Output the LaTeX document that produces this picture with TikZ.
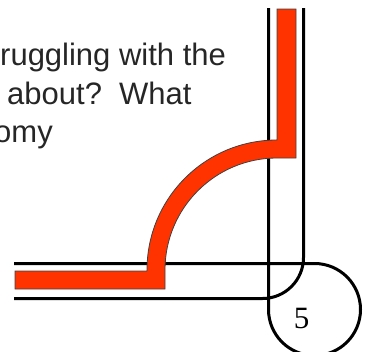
\documentclass[tikz,border=0pt]{standalone}
\usepackage{fontspec}
\setmainfont{Liberation Sans}
\newfontfamily\numfont{Liberation Serif}
\definecolor{tubered}{RGB}{255,51,0}
\tikzset{
  wall/.style={line width=3pt, line cap=butt},
  tube/.style={fill=tubered, draw=black!75, line width=0.8pt, line join=miter},
  slidetext/.style={inner sep=0pt, anchor=base west, text=black!85, font=\fontsize{31}{38}\selectfont},
  pagenum/.style={inner sep=0pt, anchor=base, font=\numfont\fontsize{31}{38}\selectfont}
}
\begin{document}
\begin{tikzpicture}[x=1pt,y=-1pt]
\useasboundingbox (0,0) rectangle (372,351);
\clip (0,0) rectangle (372,351);
\coordinate (LW) at (268.5,8);
\coordinate (RW) at (303.5,8);
\coordinate (TopEnd) at (14,263.5);
\coordinate (BotEnd) at (14,298.5);
\coordinate (C) at (277,270);

 \node[slidetext] (line1) at (0,65) {ruggling with the};
 \node[slidetext] (line2) at (7,104) {about?\ \ What};
 \node[slidetext] (line3) at (-6,142) {omy};

 \draw[wall] (LW) -- (268.5,309.5) arc[start angle=180, end angle=-90, radius=46] -- (TopEnd);
 \draw[wall] (RW) -- (303.5,257.5) arc[start angle=0, end angle=90, radius=41] -- (BotEnd);

 \draw[tube] (15,271) -- (147,271) -- (147,270)
   arc[start angle=180, end angle=270, radius=130] -- (277,9) -- (296,9) -- (296,158) -- (277,158)
   arc[start angle=270, end angle=180, radius=112] -- (165,289) -- (15,289) -- cycle;

 \node[pagenum] (num) at (301.5,328) {5};

\end{tikzpicture}
\end{document}
